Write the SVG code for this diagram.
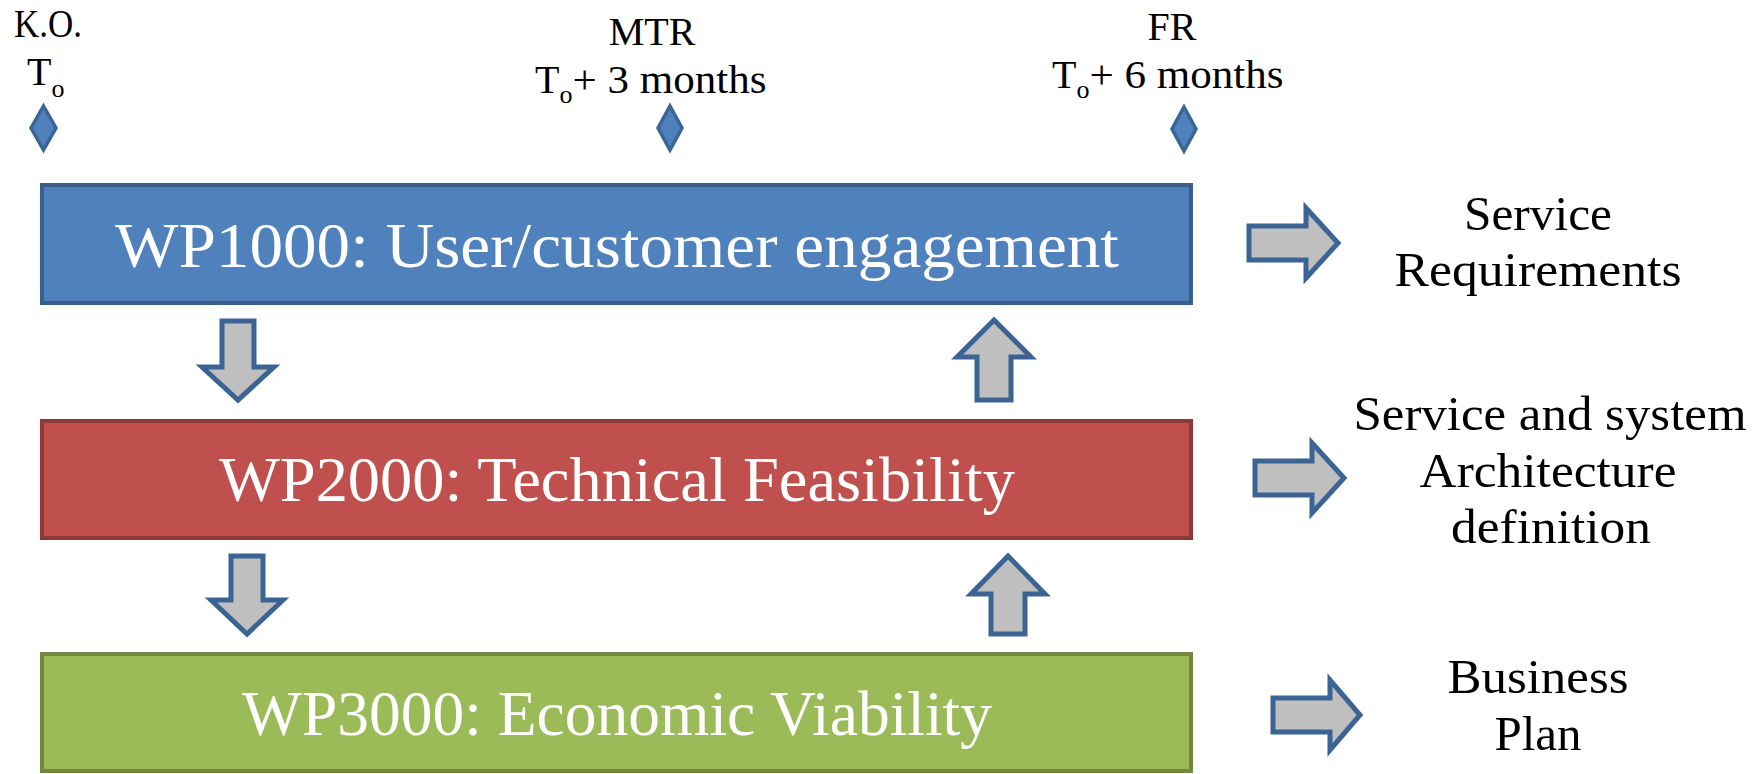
<svg xmlns="http://www.w3.org/2000/svg" width="1759" height="774" viewBox="0 0 1759 774">
<style>
.lbl{font-family:"Liberation Serif","Times New Roman",serif;font-size:40px;fill:#000}
.sub{font-size:26px}
.out{font-family:"Liberation Serif","Times New Roman",serif;font-size:48px;fill:#000}
.wp{font-family:"Liberation Serif","Times New Roman",serif;font-size:63px;fill:#fff}
.ms{fill:#4F81BD;stroke:#3A6597;stroke-width:3.5}
.arr{fill:#BFBFBF;stroke:#3B6495;stroke-width:5;stroke-linejoin:miter}
</style>
<rect width="1759" height="774" fill="#fff"/>
<g id="milestone-ko">
<text class="lbl" x="48" y="37" text-anchor="middle" textLength="68" lengthAdjust="spacingAndGlyphs">K.O.</text>
<text class="lbl" x="27" y="85">T<tspan class="sub" dy="12">o</tspan></text>
<path class="ms" d="M43.5,106 L56,128 L43.5,150 L31,128 Z"/>
</g>
<g id="milestone-mtr">
<text class="lbl" x="652" y="45" text-anchor="middle">MTR</text>
<text class="lbl" x="535" y="93">T<tspan class="sub" dy="10">o</tspan><tspan dy="-10" textLength="194" lengthAdjust="spacingAndGlyphs">+ 3 months</tspan></text>
<path class="ms" d="M670,106 L682,128 L670,150 L658,128 Z"/>
</g>
<g id="milestone-fr">
<text class="lbl" x="1172" y="40" text-anchor="middle">FR</text>
<text class="lbl" x="1052" y="88">T<tspan class="sub" dy="10">o</tspan><tspan dy="-10" textLength="194" lengthAdjust="spacingAndGlyphs">+ 6 months</tspan></text>
<path class="ms" d="M1184,107 L1196,129 L1184,151 L1172,129 Z"/>
</g>
<g id="wp1000">
<rect x="42" y="185" width="1149" height="118" fill="#4F81BD" stroke="#3A5F8B" stroke-width="4"/>
<text class="wp" x="617" y="267" text-anchor="middle" textLength="1004" lengthAdjust="spacingAndGlyphs">WP1000: User/customer engagement</text>
</g>
<g id="wp2000">
<rect x="42" y="421" width="1149" height="117" fill="#C0504D" stroke="#8C3A38" stroke-width="4"/>
<text class="wp" x="617" y="501" text-anchor="middle" textLength="796" lengthAdjust="spacingAndGlyphs">WP2000: Technical Feasibility</text>
</g>
<g id="wp3000">
<rect x="42" y="654" width="1149" height="117" fill="#9BBB59" stroke="#71893F" stroke-width="4"/>
<text class="wp" x="617" y="735" text-anchor="middle" textLength="750" lengthAdjust="spacingAndGlyphs">WP3000: Economic Viability</text>
</g>
<g id="out-service-req">
<text class="out" x="1538" y="230" text-anchor="middle" textLength="148" lengthAdjust="spacingAndGlyphs">Service</text>
<text class="out" x="1538" y="286" text-anchor="middle" textLength="287" lengthAdjust="spacingAndGlyphs">Requirements</text>
</g>
<g id="out-architecture">
<text class="out" x="1550" y="430" text-anchor="middle" textLength="393" lengthAdjust="spacingAndGlyphs">Service and system</text>
<text class="out" x="1548" y="487" text-anchor="middle" textLength="257" lengthAdjust="spacingAndGlyphs">Architecture</text>
<text class="out" x="1551" y="543" text-anchor="middle" textLength="200" lengthAdjust="spacingAndGlyphs">definition</text>
</g>
<g id="out-business-plan">
<text class="out" x="1538" y="693" text-anchor="middle" textLength="181" lengthAdjust="spacingAndGlyphs">Business</text>
<text class="out" x="1538" y="750" text-anchor="middle" textLength="87" lengthAdjust="spacingAndGlyphs">Plan</text>
</g>
<g id="connectors">
<path class="arr" d="M222,321 H254 V367 H274 L238,400 L202,367 H222 Z"/>
<path class="arr" d="M231,556 H263 V600 H283 L247,634 L211,600 H231 Z"/>
<path class="arr" d="M994,320 L1031,357 H1011 V400 H977 V357 H957 Z"/>
<path class="arr" d="M1008,556 L1045,594 H1025 V634 H991 V594 H971 Z"/>
<path class="arr" d="M1249,226 H1306 V208 L1338,243 L1306,278 V260 H1249 Z"/>
<path class="arr" d="M1255,461 H1312 V443 L1344,478 L1312,513 V495 H1255 Z"/>
<path class="arr" d="M1273,698 H1330 V680 L1360,715 L1330,750 V732 H1273 Z"/>
</g>
</svg>
